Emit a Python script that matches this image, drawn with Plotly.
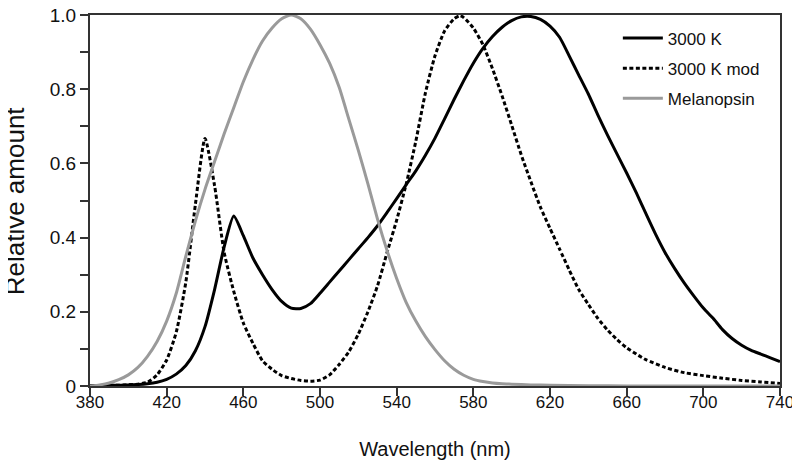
import plotly.graph_objects as go

# Wavelength grids (nm)
wl_3000 = [380, 385, 390, 395, 400, 405, 410, 415, 420, 425, 430, 435, 440, 445, 450, 455, 460, 465,
           470, 475, 480, 485, 490, 495, 500, 505, 510, 515, 520, 525, 530, 535, 540, 545, 550, 555,
           560, 565, 570, 575, 580, 585, 590, 595, 600, 605, 610, 615, 620, 625, 630, 635, 640, 645,
           650, 655, 660, 665, 670, 675, 680, 685, 690, 695, 700, 705, 710, 715, 720, 725, 730, 735, 740]
val_3000 = [0.001, 0.001, 0.002, 0.002, 0.003, 0.004, 0.006, 0.010, 0.018, 0.032, 0.055, 0.095, 0.16,
            0.26, 0.375, 0.458, 0.405, 0.345, 0.30, 0.26, 0.228, 0.21, 0.209, 0.222, 0.25, 0.28,
            0.31, 0.34, 0.37, 0.40, 0.432, 0.468, 0.505, 0.543, 0.58, 0.622, 0.668, 0.72, 0.773, 0.823,
            0.87, 0.91, 0.942, 0.967, 0.985, 0.995, 0.996, 0.988, 0.97, 0.94, 0.89, 0.838, 0.787, 0.73,
            0.676, 0.625, 0.574, 0.521, 0.465, 0.41, 0.36, 0.317, 0.278, 0.243, 0.21, 0.183, 0.152,
            0.128, 0.11, 0.096, 0.086, 0.076, 0.066]

wl_mod = [380, 385, 390, 395, 400, 405, 410, 415, 420, 425, 430, 435, 440, 445, 450, 455, 460, 465,
          470, 475, 480, 485, 490, 495, 500, 505, 510, 515, 520, 525, 530, 535, 540, 545, 550, 555,
          560, 565, 570, 573, 575, 580, 585, 590, 595, 600, 605, 610, 615, 620, 625, 630, 635, 640,
          645, 650, 655, 660, 665, 670, 680, 690, 700, 710, 720, 730, 740]
val_mod = [0.001, 0.001, 0.002, 0.002, 0.003, 0.005, 0.010, 0.03, 0.07, 0.145, 0.28, 0.49, 0.667,
           0.54, 0.36, 0.255, 0.17, 0.115, 0.068, 0.045, 0.028, 0.02, 0.015, 0.013, 0.016, 0.03,
           0.058, 0.092, 0.14, 0.20, 0.27, 0.36, 0.447, 0.545, 0.66, 0.79, 0.89, 0.957, 0.99, 0.998,
           0.993, 0.965, 0.92, 0.855, 0.782, 0.703, 0.623, 0.551, 0.482, 0.425, 0.369, 0.313, 0.26,
           0.22, 0.182, 0.151, 0.125, 0.103, 0.086, 0.071, 0.05, 0.036, 0.028, 0.021, 0.015, 0.011,
           0.007]

wl_mel = [380, 385, 390, 395, 400, 405, 410, 415, 420, 425, 430, 435, 440, 445, 450, 455, 460, 465,
          470, 475, 480, 485, 490, 495, 500, 505, 510, 515, 520, 525, 530, 535, 540, 545, 550, 555,
          560, 565, 570, 575, 580, 585, 590, 595, 600, 610, 620, 640, 660, 700, 740]
val_mel = [0.0, 0.003, 0.008, 0.017, 0.03, 0.05, 0.08, 0.12, 0.175, 0.25, 0.35, 0.445, 0.53, 0.605,
           0.68, 0.75, 0.82, 0.88, 0.93, 0.965, 0.99, 1.0, 0.99, 0.962, 0.92, 0.87, 0.805, 0.72,
           0.635, 0.545, 0.45, 0.365, 0.29, 0.225, 0.175, 0.133, 0.098, 0.068, 0.045, 0.029, 0.018,
           0.012, 0.008, 0.006, 0.005, 0.003, 0.002, 0.001, 0.0, 0.0, 0.0]

x_ticks = [380, 420, 460, 500, 540, 580, 620, 660, 700, 740]
y_ticks = [0, 0.2, 0.4, 0.6, 0.8, 1.0]
y_tick_text = ["0", "0.2", "0.4", "0.6", "0.8", "1.0"]

FONT = "Liberation Sans, Arial, sans-serif"

fig = go.Figure()
fig.add_trace(go.Scatter(x=wl_3000, y=val_3000, mode="lines", name="3000 K", legendgroup="a",
                         line=dict(color="black", width=3, shape="spline", smoothing=0.6)))
fig.add_trace(go.Scatter(x=wl_mod, y=val_mod, mode="lines", name="3000 K mod", legendgroup="b",
                         line=dict(color="black", width=3, dash="4px,2.5px", shape="spline", smoothing=0.6)))
fig.add_trace(go.Scatter(x=wl_mel, y=val_mel, mode="lines", name="Melanopsin", legendgroup="c",
                         line=dict(color="#9a9a9a", width=3, shape="spline", smoothing=0.6)))

fig.update_layout(
    width=792, height=454,
    margin=dict(l=82, r=20, t=7, b=76, autoexpand=False),
    paper_bgcolor="white", plot_bgcolor="white",
    font=dict(family=FONT, color="#222"),
    showlegend=True,
    legend=dict(x=0.765, y=0.985, xanchor="left", yanchor="top",
                bgcolor="rgba(0,0,0,0)", font=dict(size=17, color="#111"),
                tracegroupgap=5, itemwidth=40),
    annotations=[dict(text="Relative amount", textangle=-90, showarrow=False,
                      xref="paper", yref="paper", x=-0.109, y=0.5,
                      xanchor="center", yanchor="middle",
                      font=dict(size=26, color="#111", family=FONT))],
)
fig.update_xaxes(
    range=[380, 740], tickmode="array", tickvals=x_ticks,
    ticks="outside", ticklen=8, tickwidth=1.5, tickcolor="#333",
    showline=True, linecolor="#333", linewidth=2, mirror=True,
    showgrid=False, zeroline=False,
    tickfont=dict(size=17, color="#111"), ticklabelstandoff=-8, ticklabeloverflow="allow",
    title=dict(text="Wavelength (nm)", font=dict(size=20, color="#111"), standoff=31),
)
fig.update_yaxes(
    range=[0, 1.0], tickmode="array", tickvals=y_ticks, ticktext=y_tick_text,
    ticks="outside", ticklen=8, tickwidth=1.5, tickcolor="#333",
    minor=dict(dtick=0.1, tick0=0, ticks="outside", ticklen=8, tickwidth=1.5, tickcolor="#333"),
    showline=True, linecolor="#333", linewidth=2, mirror=True,
    showgrid=False, zeroline=False,
    tickfont=dict(size=19, color="#111"), ticklabeloverflow="allow",
)

fig.write_html("out.html")
